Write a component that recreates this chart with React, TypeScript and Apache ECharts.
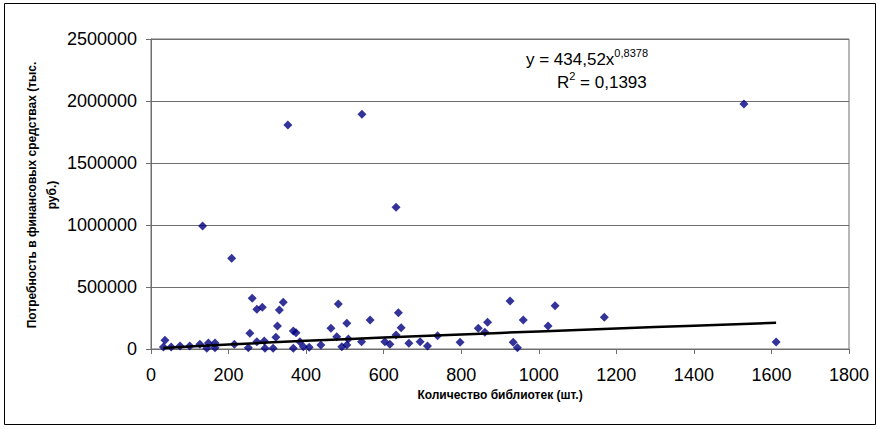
import React, { useEffect, useRef } from "react";
import * as echarts from "echarts";

const xTicks = [0, 200, 400, 600, 800, 1000, 1200, 1400, 1600, 1800];
const yTicks = [0, 500000, 1000000, 1500000, 2000000, 2500000];

const libraries = [
  36, 52, 32, 75, 100, 126, 148, 165, 144, 165, 215, 255, 251, 273, 292, 294, 261, 273, 287,
  341, 331, 326, 322, 315, 367, 374, 384, 367, 393, 408, 438, 483, 464, 479, 505, 509, 492,
  505, 543, 565, 603, 616, 638, 645, 632, 665, 694, 713, 739, 797, 844, 868, 861, 926, 934,
  945, 960, 1024, 1042, 1169, 1612, 1529, 544, 353, 133, 208, 632,
];
const needs = [
  70000, 16000, 16000, 24000, 24000, 38000, 48000, 48000, 6000, 10000, 38000, 127000, 10000,
  59000, 65000, 6000, 409000, 320000, 336000, 377000, 315000, 185000, 94000, 6000, 145000,
  131000, 59000, 6000, 19000, 14000, 32000, 363000, 167000, 99000, 207000, 81000, 19000,
  32000, 59000, 234000, 59000, 38000, 293000, 172000, 113000, 46000, 59000, 24000, 107000,
  54000, 167000, 215000, 135000, 387000, 54000, 10000, 234000, 185000, 349000, 256000,
  56000, 1976000, 1893000, 1806000, 992000, 731000, 1143000,
];

// power trendline y = 434,52x^0,8378 (values at these x)
const trendX = [32, 100, 200, 400, 600, 800, 1000, 1200, 1400, 1612];
const trendY = [7900, 20589, 36795, 65787, 92380, 117540, 141650, 165070, 187840, 211400];

const equationText = "y = 434,52x";
const equationPower = "0,8378";
const r2Value = "0,1393";
const xName = "Количество библиотек (шт.)";
const yName = "Потребность в финансовых средствах (тыс.\nруб.)";

export default function App() {
  const ref = useRef<HTMLDivElement>(null);
  useEffect(() => {
    if (!ref.current) return;
    const chart = echarts.init(ref.current, null, { renderer: "svg" });
    const font = "'Liberation Sans', Arial, sans-serif";
    const axisColor = "#6e6e6e";
    chart.setOption({
      animation: false,
      backgroundColor: "#ffffff",
      textStyle: { fontFamily: font, color: "#000" },
      grid: { left: 151, right: 31, top: 39, bottom: 80, show: true, borderColor: axisColor, borderWidth: 1 },
      xAxis: {
        type: "value",
        min: xTicks[0],
        max: xTicks[xTicks.length - 1],
        interval: 200,
        name: xName,
        nameLocation: "middle",
        nameGap: 38,
        nameTextStyle: { fontSize: 12, fontWeight: "bold", color: "#000", fontFamily: font },
        axisLine: { show: true, lineStyle: { color: axisColor, width: 1 } },
        axisTick: { show: true, length: 5, lineStyle: { color: axisColor } },
        axisLabel: { fontSize: 18, color: "#000", margin: 17, fontFamily: font, formatter: (v: number) => String(v) },
        splitLine: { show: false },
      },
      yAxis: {
        type: "value",
        min: yTicks[0],
        max: yTicks[yTicks.length - 1],
        interval: 500000,
        axisLine: { show: true, lineStyle: { color: axisColor, width: 1 } },
        axisTick: { show: true, length: 5, lineStyle: { color: axisColor } },
        axisLabel: { fontSize: 18, color: "#000", margin: 14, fontFamily: font, formatter: (v: number) => String(v) },
        splitLine: { show: true, lineStyle: { color: axisColor, width: 1 } },
      },
      series: [
        {
          type: "scatter",
          symbol: "diamond",
          symbolSize: 9,
          itemStyle: { color: "#000080" },
          data: libraries.map((x, i) => [x, needs[i]]),
          z: 3,
        },
        {
          type: "line",
          data: trendX.map((x, i) => [x, trendY[i]]),
          smooth: true,
          showSymbol: false,
          symbol: "none",
          lineStyle: { color: "#000", width: 2.5 },
          z: 4,
        },
      ],
      graphic: [
        {
          type: "rect",
          shape: { x: 4.5, y: 3.5, width: 871, height: 421 },
          style: { fill: "none", stroke: "#000", lineWidth: 1 },
          silent: true,
        },
        {
          type: "text",
          x: 42,
          y: 195,
          rotation: Math.PI / 2,
          style: {
            text: yName,
            fontSize: 12,
            fontWeight: "bold",
            fontFamily: font,
            fill: "#000",
            align: "center",
            verticalAlign: "middle",
            lineHeight: 20,
          },
        },
        {
          type: "text",
          x: 526,
          y: 47,
          style: {
            text: `{a|${equationText}}{b|${equationPower}}`,
            rich: {
              a: { fontSize: 17, fontFamily: font, fill: "#000", lineHeight: 24 },
              b: { fontSize: 11, fontFamily: font, fill: "#000", verticalAlign: "top", lineHeight: 24 },
            },
          },
        },
        {
          type: "text",
          x: 557,
          y: 70,
          style: {
            text: `{a|R}{b|2}{a| = ${r2Value}}`,
            rich: {
              a: { fontSize: 17, fontFamily: font, fill: "#000", lineHeight: 24 },
              b: { fontSize: 11, fontFamily: font, fill: "#000", verticalAlign: "top", lineHeight: 24 },
            },
          },
        },
      ],
    });
    return () => chart.dispose();
  }, []);
  return <div ref={ref} style={{ position: "absolute", left: 0, top: 0, width: 880, height: 429 }} />;
}
